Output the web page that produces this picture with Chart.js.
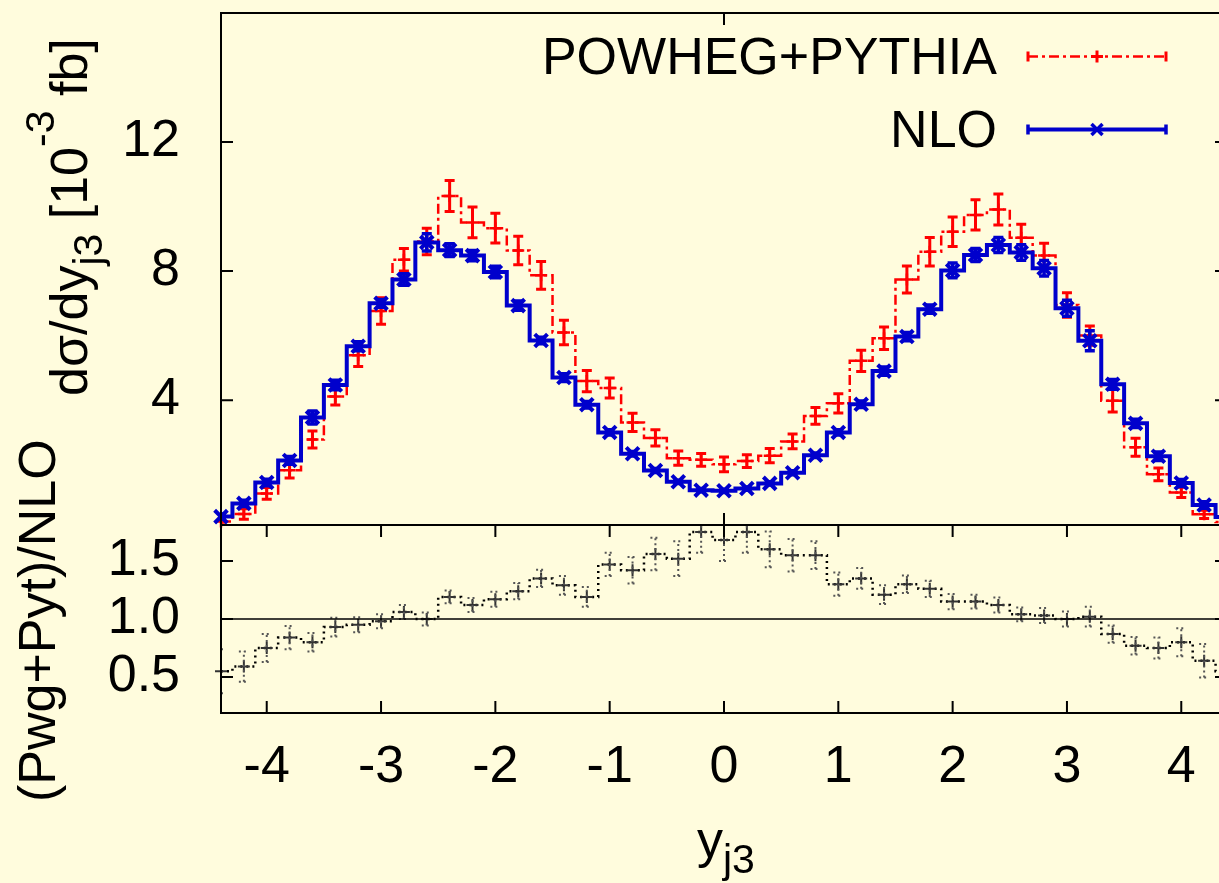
<!DOCTYPE html>
<html lang="en">
<head>
    <meta charset="UTF-8">
    <title>y_j3 distribution: POWHEG+PYTHIA vs NLO</title>
    <script src="https://cdn.jsdelivr.net/npm/chart.js"></script>
    <style>
        body {
            margin: 0;
            background-color: #fffcdd;
            overflow: hidden;
        }
        .panel {
            position: absolute;
            left: 0;
            top: 0;
        }
    </style>
</head>
<body>
    <!-- upper panel: cross sections, lower panel: ratio -->
    <canvas id="mainChart" class="panel" width="1240" height="883"></canvas>
    <canvas id="ratioChart" class="panel" width="1240" height="883"></canvas>

    <script>
        // bin centres in y_j3 (bin width 0.2)
        const binCenters = [-4.4, -4.2, -4.0, -3.8, -3.6, -3.4, -3.2, -3.0, -2.8, -2.6, -2.4, -2.2, -2.0, -1.8, -1.6,
                            -1.4, -1.2, -1.0, -0.8, -0.6, -0.4, -0.2, 0.0, 0.2, 0.4, 0.6, 0.8, 1.0, 1.2, 1.4,
                            1.6, 1.8, 2.0, 2.2, 2.4, 2.6, 2.8, 3.0, 3.2, 3.4, 3.6, 3.8, 4.0, 4.2, 4.4];

        // dsigma/dy_j3 [10^-3 fb]
        const nloValues = [0.39, 0.80, 1.45, 2.13, 3.46, 4.47, 5.67, 7.00, 7.74, 8.89, 8.65, 8.48, 7.97, 6.93, 5.85,
                           4.70, 3.86, 3.00, 2.34, 1.82, 1.47, 1.21, 1.19, 1.26, 1.42, 1.75, 2.29, 3.00, 3.87, 4.90,
                           5.97, 6.82, 8.02, 8.50, 8.81, 8.58, 8.09, 6.85, 5.84, 4.49, 3.28, 2.26, 1.43, 0.75, 0.38];
        const nloErrors = [0.08, 0.10, 0.10, 0.12, 0.20, 0.15, 0.14, 0.12, 0.18, 0.27, 0.20, 0.16, 0.18, 0.14, 0.10,
                           0.12, 0.10, 0.08, 0.07, 0.06, 0.05, 0.05, 0.05, 0.05, 0.05, 0.06, 0.07, 0.08, 0.10, 0.13,
                           0.13, 0.13, 0.23, 0.20, 0.23, 0.24, 0.24, 0.25, 0.31, 0.15, 0.13, 0.13, 0.11, 0.10, 0.08];

        const pwgValues = [0.24, 0.47, 1.11, 1.83, 2.78, 4.11, 5.39, 6.76, 8.35, 8.92, 10.33, 9.51, 9.33, 8.64, 7.87,
                           6.10, 4.59, 4.38, 3.31, 2.83, 2.20, 2.15, 2.01, 2.11, 2.28, 2.72, 3.51, 3.90, 5.22, 5.92,
                           7.74, 8.60, 9.22, 9.74, 9.91, 9.03, 8.48, 6.95, 6.00, 3.98, 2.54, 1.70, 1.14, 0.46, 0.22];
        const pwgErrors = [0.10, 0.16, 0.18, 0.24, 0.26, 0.26, 0.35, 0.41, 0.35, 0.41, 0.48, 0.48, 0.46, 0.44, 0.43,
                           0.38, 0.33, 0.31, 0.28, 0.25, 0.22, 0.20, 0.23, 0.20, 0.22, 0.23, 0.26, 0.30, 0.33, 0.35,
                           0.42, 0.44, 0.46, 0.47, 0.48, 0.42, 0.38, 0.38, 0.30, 0.35, 0.28, 0.20, 0.16, 0.13, 0.10];

        // (Pwg+Pyt)/NLO
        const ratioValues = [0.55, 0.59, 0.75, 0.84, 0.80, 0.93, 0.95, 0.98, 1.06, 1.00, 1.19, 1.12, 1.17, 1.24, 1.35,
                             1.29, 1.19, 1.47, 1.42, 1.56, 1.52, 1.75, 1.68, 1.75, 1.60, 1.55, 1.55, 1.30, 1.35, 1.21,
                             1.30, 1.26, 1.15, 1.15, 1.12, 1.04, 1.03, 1.00, 1.02, 0.87, 0.77, 0.75, 0.80, 0.64, 0.55];
        const ratioErrors = [0.19, 0.13, 0.12, 0.10, 0.08, 0.08, 0.065, 0.06, 0.06, 0.055, 0.055, 0.06, 0.065, 0.07, 0.075,
                             0.08, 0.085, 0.10, 0.115, 0.14, 0.15, 0.18, 0.18, 0.18, 0.155, 0.14, 0.12, 0.10, 0.09, 0.08,
                             0.075, 0.07, 0.065, 0.06, 0.065, 0.06, 0.065, 0.065, 0.085, 0.075, 0.075, 0.09, 0.12, 0.145, 0.19];

        // tick marks
        const xTickValues = [-4, -3, -2, -1, 0, 1, 2, 3, 4];
        const mainXTicks = [0];
        const mainYTicks = [4, 8, 12];
        const ratioYTicks = [0.5, 1.0, 1.5];

        const FONT = '"Liberation Sans", Arial, Helvetica, sans-serif';
        const RED = '#ff0000';
        const BLUE = '#0000cc';
        const TICK_LEN = 12;

        Chart.defaults.font.family = FONT;
        Chart.defaults.color = '#000';

        const toPoints = values => binCenters.map((x, i) => ({ x: x, y: values[i] }));

        // vertical error bars with small caps, drawn right after each dataset
        const errorBars = {
            id: 'errorBars',
            afterDatasetDraw(chart, args) {
                const ds = chart.data.datasets[args.index];
                if (!ds.errors) return;
                const { ctx, chartArea: a, scales: { x, y } } = chart;
                ctx.save();
                ctx.beginPath();
                ctx.rect(a.left, a.top, a.right - a.left, a.bottom - a.top);
                ctx.clip();
                ctx.strokeStyle = ds.errorColor;
                ctx.lineWidth = ds.errorWidth;
                ctx.setLineDash(ds.errorDash || []);
                ds.data.forEach((p, i) => {
                    const px = x.getPixelForValue(p.x);
                    const lo = y.getPixelForValue(p.y - ds.errors[i]);
                    const hi = y.getPixelForValue(p.y + ds.errors[i]);
                    ctx.beginPath();
                    ctx.moveTo(px, lo);
                    ctx.lineTo(px, hi);
                    ctx.moveTo(px - 5, lo);
                    ctx.lineTo(px + 5, lo);
                    ctx.moveTo(px - 5, hi);
                    ctx.lineTo(px + 5, hi);
                    ctx.stroke();
                });
                ctx.restore();
            }
        };

        // gnuplot style border with inward ticks on all sides
        const frame = {
            id: 'frame',
            afterDraw(chart, args, opts) {
                const { ctx, chartArea: a, scales: { x, y } } = chart;
                ctx.save();
                ctx.strokeStyle = '#000';
                ctx.setLineDash([]);
                if (opts.refLine !== undefined) {
                    const py = y.getPixelForValue(opts.refLine);
                    ctx.lineWidth = 1.5;
                    ctx.beginPath();
                    ctx.moveTo(a.left, py);
                    ctx.lineTo(a.right, py);
                    ctx.stroke();
                }
                ctx.lineWidth = 2;
                ctx.beginPath();
                opts.yTicks.forEach(v => {
                    const py = y.getPixelForValue(v);
                    ctx.moveTo(a.left, py);
                    ctx.lineTo(a.left + TICK_LEN, py);
                    ctx.moveTo(a.right, py);
                    ctx.lineTo(a.right - TICK_LEN, py);
                });
                opts.xTicks.forEach(v => {
                    const px = x.getPixelForValue(v);
                    ctx.moveTo(px, a.bottom);
                    ctx.lineTo(px, a.bottom - TICK_LEN);
                    ctx.moveTo(px, a.top);
                    ctx.lineTo(px, a.top + TICK_LEN);
                });
                ctx.stroke();
                ctx.strokeRect(a.left, a.top, a.right - a.left, a.bottom - a.top);
                ctx.restore();
            }
        };

        // text made of pieces with sub/superscripts, optionally rotated
        function drawRichText(ctx, parts, x0, y0, rotated) {
            ctx.save();
            ctx.translate(x0, y0);
            if (rotated) ctx.rotate(-Math.PI / 2);
            ctx.fillStyle = '#000';
            ctx.textBaseline = 'alphabetic';
            ctx.textAlign = 'left';
            let pos = 0;
            parts.forEach(p => {
                ctx.font = p.size + 'px ' + FONT;
                ctx.fillText(p.text, pos, p.shift || 0);
                pos += ctx.measureText(p.text).width;
            });
            ctx.restore();
        }

        function legendSample(ctx, y, color, width, dash, marker) {
            const x1 = 1028, x2 = 1166, xm = 1097;
            ctx.save();
            ctx.strokeStyle = color;
            ctx.lineWidth = width;
            ctx.setLineDash(dash);
            ctx.beginPath();
            ctx.moveTo(x1, y);
            ctx.lineTo(x2, y);
            ctx.stroke();
            ctx.setLineDash([]);
            ctx.lineWidth = 3;
            ctx.beginPath();
            ctx.moveTo(x1, y - 5);
            ctx.lineTo(x1, y + 5);
            ctx.moveTo(x2, y - 5);
            ctx.lineTo(x2, y + 5);
            if (marker === 'cross') {
                ctx.moveTo(xm - 6, y);
                ctx.lineTo(xm + 6, y);
                ctx.moveTo(xm, y - 6);
                ctx.lineTo(xm, y + 6);
            } else {
                ctx.lineWidth = 3.5;
                ctx.moveTo(xm - 5.5, y - 5.5);
                ctx.lineTo(xm + 5.5, y + 5.5);
                ctx.moveTo(xm - 5.5, y + 5.5);
                ctx.lineTo(xm + 5.5, y - 5.5);
            }
            ctx.stroke();
            ctx.restore();
        }

        const mainLabels = {
            id: 'mainLabels',
            afterDraw(chart) {
                const ctx = chart.ctx;
                drawRichText(ctx, [
                    { text: 'dσ/dy', size: 52 },
                    { text: 'j3', size: 41, shift: 15 },
                    { text: ' [10', size: 52 },
                    { text: '-3', size: 41, shift: -33 },
                    { text: ' fb]', size: 52 }
                ], 87, 396, true);

                ctx.save();
                ctx.font = '52px ' + FONT;
                ctx.fillStyle = '#000';
                ctx.textAlign = 'right';
                ctx.textBaseline = 'alphabetic';
                ctx.fillText('POWHEG+PYTHIA', 997, 74);
                ctx.fillText('NLO', 997, 147);
                ctx.restore();
                legendSample(ctx, 56.5, RED, 2.5, [10, 4, 3, 4], 'cross');
                legendSample(ctx, 129.5, BLUE, 4, [], 'x');
            }
        };

        const ratioLabels = {
            id: 'ratioLabels',
            afterDraw(chart) {
                const ctx = chart.ctx;
                drawRichText(ctx, [{ text: '(Pwg+Pyt)/NLO', size: 52 }], 55, 802, true);
                drawRichText(ctx, [
                    { text: 'y', size: 52 },
                    { text: 'j3', size: 41, shift: 16 }
                ], 697, 857, false);
            }
        };

        const fixedTicks = values => axis => {
            axis.ticks = values.map(v => ({ value: v }));
        };

        // keep the plot frame where the layout padding puts it
        const fixWidth = w => axis => {
            axis.width = w;
            axis.paddingTop = 0;
            axis.paddingBottom = 0;
        };
        const fixHeight = h => axis => {
            axis.height = h;
            axis.paddingLeft = 0;
            axis.paddingRight = 0;
        };

        // upper panel
        new Chart(document.getElementById('mainChart'), {
            type: 'line',
            data: {
                datasets: [{
                    label: 'NLO',
                    data: toPoints(nloValues),
                    errors: nloErrors,
                    errorColor: BLUE,
                    errorWidth: 3.5,
                    borderColor: BLUE,
                    borderWidth: 4,
                    stepped: 'middle',
                    pointStyle: 'crossRot',
                    pointRadius: 9,
                    pointBorderWidth: 4,
                    pointBorderColor: BLUE,
                    pointBackgroundColor: BLUE,
                    fill: false,
                    clip: false
                }, {
                    label: 'POWHEG+PYTHIA',
                    data: toPoints(pwgValues),
                    errors: pwgErrors,
                    errorColor: RED,
                    errorWidth: 3,
                    borderColor: RED,
                    borderWidth: 2.5,
                    borderDash: [10, 4, 3, 4],
                    stepped: 'middle',
                    pointStyle: 'cross',
                    pointRadius: 6,
                    pointBorderWidth: 2.5,
                    pointBorderColor: RED,
                    pointBackgroundColor: RED,
                    fill: false,
                    clip: false
                }]
            },
            options: {
                responsive: false,
                animation: false,
                events: [],
                layout: { padding: { top: 7.5, right: 13, left: 0, bottom: 358 } },
                plugins: {
                    legend: { display: false },
                    tooltip: { enabled: false },
                    frame: { xTicks: mainXTicks, yTicks: mainYTicks }
                },
                scales: {
                    x: {
                        type: 'linear',
                        min: -4.4,
                        max: 4.4,
                        display: false
                    },
                    y: {
                        type: 'linear',
                        min: 0.13,
                        max: 16,
                        grid: { display: false },
                        border: { display: false },
                        afterBuildTicks: fixedTicks(mainYTicks),
                        afterFit: fixWidth(221),
                        ticks: {
                            font: { size: 52 },
                            padding: 33,
                            callback: v => String(v)
                        }
                    }
                }
            },
            plugins: [errorBars, frame, mainLabels]
        });

        // lower panel: ratio
        new Chart(document.getElementById('ratioChart'), {
            type: 'line',
            data: {
                datasets: [{
                    label: '(Pwg+Pyt)/NLO',
                    data: toPoints(ratioValues),
                    errors: ratioErrors,
                    errorColor: '#555',
                    errorWidth: 2,
                    errorDash: [2, 3],
                    borderColor: '#000',
                    borderWidth: 2.5,
                    borderDash: [2, 4],
                    stepped: 'middle',
                    pointStyle: 'cross',
                    pointRadius: 6,
                    pointBorderWidth: 2,
                    pointBorderColor: '#333',
                    pointBackgroundColor: '#333',
                    fill: false,
                    clip: false
                }]
            },
            options: {
                responsive: false,
                animation: false,
                events: [],
                layout: { padding: { top: 525, right: 13, left: 0, bottom: 0 } },
                plugins: {
                    legend: { display: false },
                    tooltip: { enabled: false },
                    frame: { xTicks: xTickValues, yTicks: ratioYTicks, refLine: 1.0 }
                },
                scales: {
                    x: {
                        type: 'linear',
                        min: -4.4,
                        max: 4.4,
                        grid: { display: false },
                        border: { display: false },
                        afterBuildTicks: fixedTicks(xTickValues),
                        afterFit: fixHeight(170),
                        ticks: {
                            font: { size: 52 },
                            padding: 15,
                            maxRotation: 0,
                            autoSkip: false,
                            callback: v => String(v)
                        }
                    },
                    y: {
                        type: 'linear',
                        min: 0.19,
                        max: 1.81,
                        grid: { display: false },
                        border: { display: false },
                        afterBuildTicks: fixedTicks(ratioYTicks),
                        afterFit: fixWidth(221),
                        ticks: {
                            font: { size: 52 },
                            padding: 33,
                            callback: v => v.toFixed(1)
                        }
                    }
                }
            },
            plugins: [errorBars, frame, ratioLabels]
        });
    </script>
</body>
</html>
